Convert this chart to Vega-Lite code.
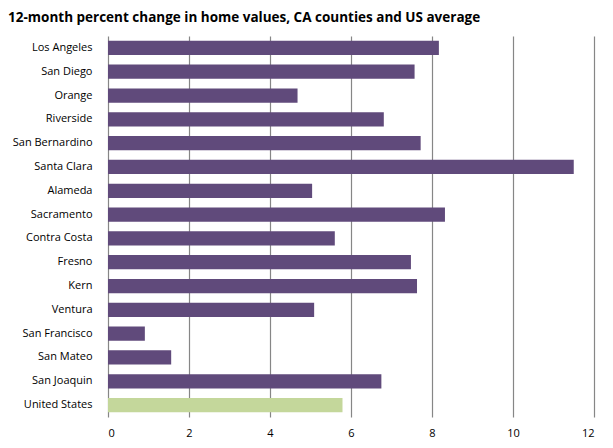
{
  "$schema": "https://vega.github.io/schema/vega-lite/v6.json",
  "autosize": "none",
  "width": 486,
  "height": 381,
  "padding": {"left": 108, "top": 36, "right": 19, "bottom": 31},
  "background": "white",
  "title": {
    "text": "12-month percent change in home values, CA counties and US average",
    "anchor": "start",
    "frame": "group",
    "dx": -100,
    "offset": 12,
    "font": "Open Sans",
    "fontSize": 13.5,
    "fontWeight": "bold",
    "color": "#000000"
  },
  "data": {
    "values": [
      {"county": "Los Angeles", "change": 8.17, "group": "CA"},
      {"county": "San Diego", "change": 7.57, "group": "CA"},
      {"county": "Orange", "change": 4.68, "group": "CA"},
      {"county": "Riverside", "change": 6.81, "group": "CA"},
      {"county": "San Bernardino", "change": 7.72, "group": "CA"},
      {"county": "Santa Clara", "change": 11.5, "group": "CA"},
      {"county": "Alameda", "change": 5.04, "group": "CA"},
      {"county": "Sacramento", "change": 8.32, "group": "CA"},
      {"county": "Contra Costa", "change": 5.6, "group": "CA"},
      {"county": "Fresno", "change": 7.48, "group": "CA"},
      {"county": "Kern", "change": 7.63, "group": "CA"},
      {"county": "Ventura", "change": 5.09, "group": "CA"},
      {"county": "San Francisco", "change": 0.91, "group": "CA"},
      {"county": "San Mateo", "change": 1.56, "group": "CA"},
      {"county": "San Joaquin", "change": 6.75, "group": "CA"},
      {"county": "United States", "change": 5.79, "group": "US"}
    ]
  },
  "mark": {"type": "bar"},
  "encoding": {
    "y": {
      "field": "county",
      "type": "nominal",
      "sort": null,
      "scale": {"paddingInner": 0.4, "paddingOuter": 0.2},
      "axis": {
        "title": null,
        "domain": false,
        "ticks": false,
        "grid": false,
        "labelPadding": 16,
        "labelFont": "Open Sans",
        "labelFontSize": 11,
        "labelColor": "#000000"
      }
    },
    "x": {
      "field": "change",
      "type": "quantitative",
      "scale": {"domain": [0, 12], "nice": false},
      "axis": {
        "title": null,
        "values": [0, 2, 4, 6, 8, 10, 12],
        "domain": false,
        "ticks": false,
        "grid": true,
        "gridColor": "#868686",
        "gridWidth": 1.2,
        "labelPadding": 10,
        "labelFont": "Open Sans",
        "labelFontSize": 11,
        "labelColor": "#000000"
      }
    },
    "color": {
      "field": "group",
      "type": "nominal",
      "scale": {"domain": ["CA", "US"], "range": ["#604A7B", "#C4D79B"]},
      "legend": null
    }
  },
  "config": {"view": {"stroke": null}}
}
